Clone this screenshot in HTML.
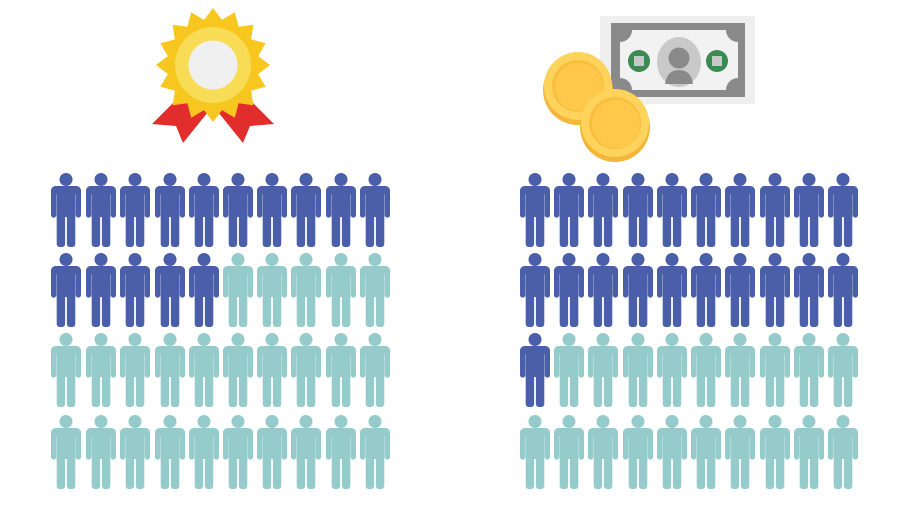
<!DOCTYPE html>
<html><head><style>html,body{margin:0;padding:0;background:#fff;}svg{display:block}</style></head>
<body>
<svg width="899" height="521" viewBox="0 0 899 521" xmlns="http://www.w3.org/2000/svg">
<defs>
<g id="p">
<circle cx="0" cy="6.5" r="6.5"/>
<path d="M-10.5,13 H10.5 A4.5,4.5 0 0 1 15,17.5 V42 A2.6,2.6 0 0 1 9.8,42 V21 H9.5 V44 H-9.5 V21 H-9.8 V42 A2.6,2.6 0 0 1 -15,42 V17.5 A4.5,4.5 0 0 1 -10.5,13 Z"/>
<rect x="-9.3" y="36" width="8.4" height="38" rx="3"/>
<rect x="0.9" y="36" width="8.4" height="38" rx="3"/>
</g>
</defs>
<!-- medal -->
<polygon points="180,96 208,112 183,143 176,126 152,124" fill="#e22d2d"/>
<polygon points="246,96 218,112 243,143 250,126 274,124" fill="#e22d2d"/>
<polygon id="star" fill="#f7c720" points=""/>
<circle cx="213" cy="65" r="38" fill="#f8dc55"/>
<circle cx="213" cy="65" r="24.5" fill="#f0f0f0"/>
<!-- bill -->
<rect x="600" y="16" width="155" height="88" fill="#efefef"/>
<rect x="611" y="23" width="134" height="74" fill="#8a8a8a"/>
<path d="M632,30 H726 A12,12 0 0 0 738,42 V78 A12,12 0 0 0 726,90 H632 A12,12 0 0 0 620,78 V42 A12,12 0 0 0 632,30 Z" fill="#f2f2f2"/>
<ellipse cx="679" cy="62" rx="22" ry="25" fill="#c9c9c9"/>
<circle cx="679" cy="58" r="10.5" fill="#8a8a8a"/>
<path d="M665,84 Q667,70 679,70 Q691,70 693,84 Z" fill="#8a8a8a"/>
<circle cx="639" cy="61" r="11" fill="#3a8a52"/><rect x="634" y="56" width="10" height="10" fill="#c8c8c8"/>
<circle cx="717" cy="61" r="11" fill="#3a8a52"/><rect x="712" y="56" width="10" height="10" fill="#c8c8c8"/>
<!-- coins -->
<circle cx="578" cy="90" r="35" fill="#f4b63a"/>
<circle cx="578" cy="86" r="34" fill="#fdd35c"/>
<circle cx="578" cy="86" r="26" fill="#f8bf3e"/>
<circle cx="579" cy="87" r="24" fill="#fec84a"/>
<circle cx="615" cy="127" r="35" fill="#f4b63a"/>
<circle cx="615" cy="123" r="34" fill="#fdd35c"/>
<circle cx="615" cy="123" r="26" fill="#f8bf3e"/>
<circle cx="616" cy="124" r="24" fill="#fec84a"/>
<g id="people"></g>
</svg>
<script>
(function(){
var s=document.getElementById('star'),pts=[];
for(var i=0;i<32;i++){var r=i%2?46:57,a=Math.PI*2*i/32-Math.PI/2;pts.push((213+r*Math.cos(a)).toFixed(1)+','+(65+r*Math.sin(a)).toFixed(1));}
s.setAttribute('points',pts.join(' '));
var g=document.getElementById('people'),NS='http://www.w3.org/2000/svg';
var tops=[173,253,333,415];
var L=[66,101,135,170,204,238,272,306,341,375],R=[535,569,603,638,672,706,740,775,809,843];
function add(xs,darkCount){for(var r=0;r<4;r++)for(var c=0;c<10;c++){var u=document.createElementNS(NS,'use');u.setAttribute('href','#p');u.setAttribute('transform','translate('+xs[c]+','+tops[r]+')');u.setAttribute('fill',(r*10+c)<darkCount?'#4a5ea9':'#95cbca');g.appendChild(u);}}
add(L,15);add(R,21);
})();
</script>
</body></html>
